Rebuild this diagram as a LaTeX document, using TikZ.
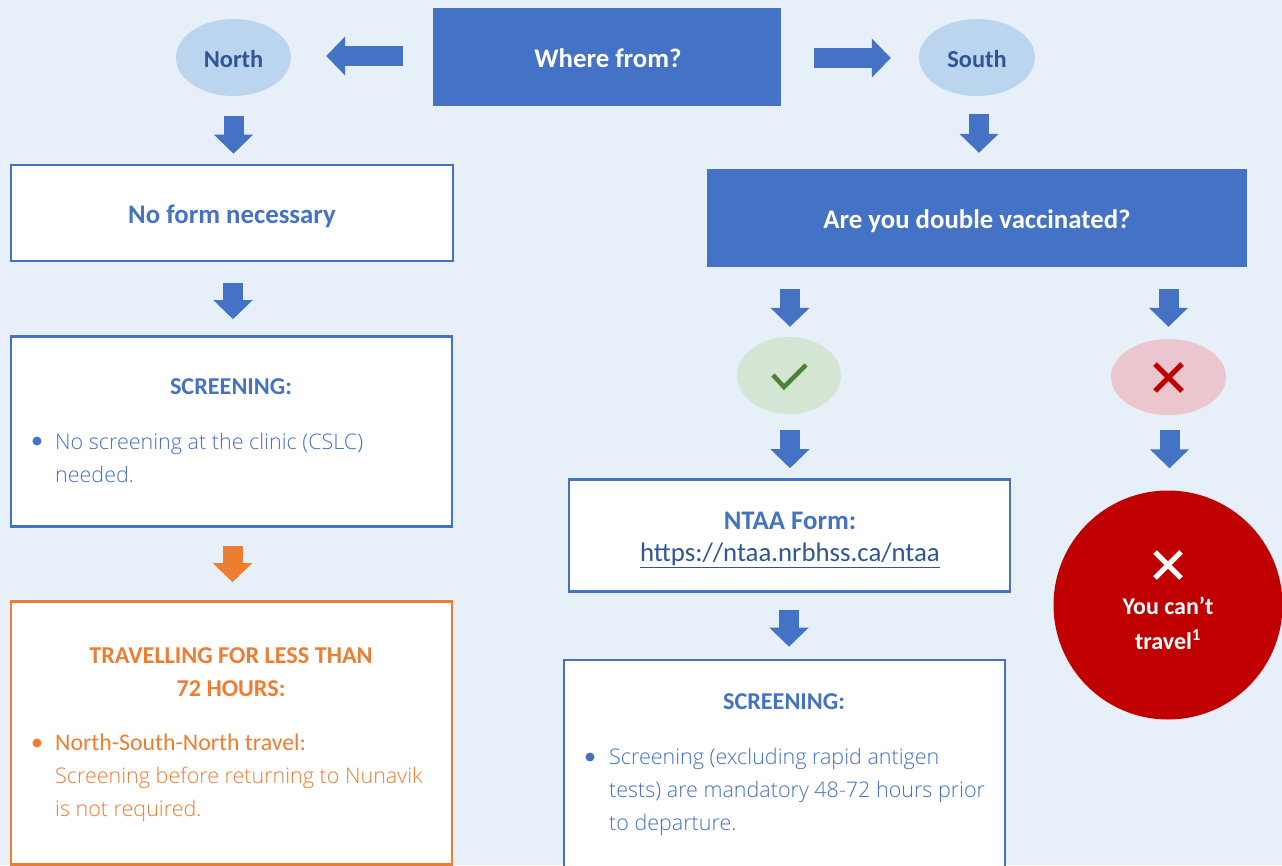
\documentclass[tikz,border=0pt]{standalone}
\usepackage{fontspec}
\setmainfont{Carlito}
\newfontfamily\bodyfont{Open Sans Light}
\usetikzlibrary{arrows.meta,shapes.geometric}
\definecolor{bg}{HTML}{E7EFF9}
\definecolor{mainblue}{HTML}{4472C4}
\definecolor{mainorange}{HTML}{ED7D31}
\definecolor{paleblue}{HTML}{BBD5EE}
\definecolor{darkblue}{HTML}{2F5597}
\definecolor{palegreen}{HTML}{D4E6D3}
\definecolor{darkgreen}{HTML}{4E8033}
\definecolor{palepink}{HTML}{ECC6CE}
\definecolor{darkred}{HTML}{C00000}
\tikzset{
  x=1pt,y=-1pt,
  solidbox/.style={rectangle,fill=mainblue,inner sep=0pt},
  linebox/.style={rectangle,draw=mainblue,fill=white,line width=2.6pt,inner sep=0pt},
  orangebox/.style={linebox,draw=mainorange},
  oval/.style={ellipse,inner sep=0pt},
  ovaltext/.style={inner sep=0pt,text=darkblue,font=\fontsize{24.4}{28}\selectfont\bfseries},
  bigtext/.style={inner sep=0pt,text=mainblue,font=\fontsize{26.8}{32}\selectfont\bfseries},
  blockarrow/.style={line width=20pt,draw=mainblue,-{Triangle[length=19pt,width=38pt]}},
  headtext/.style={inner sep=0pt,text=mainblue,font=\fontsize{24.2}{33}\selectfont\bfseries,align=center},
  bodytext/.style={inner sep=0pt,text=mainblue,anchor=north west,align=left,font=\fontsize{21.5}{33}\selectfont\bodyfont},
  bulletdot/.style={circle,fill=mainblue,inner sep=0pt,minimum size=9pt},
}
\begin{document}
\begin{tikzpicture}
\useasboundingbox (0,0) rectangle (1282,865);
\clip (0,0) rectangle (1282,865);
\fill[bg] (0,0) rectangle (1282,865);

% top row
\node[solidbox,minimum width=348pt,minimum height=98pt] (where) at (607,57) {};
\node[bigtext,text=white] (wheretext) at (608,58) {Where from?};
\node[oval,fill=paleblue,minimum width=115pt,minimum height=77pt] (north) at (233.5,57.5) {};
\node[ovaltext] (northtext) at (233.5,59) {North};
\node[oval,fill=paleblue,minimum width=116pt,minimum height=77pt] (south) at (977,57.5) {};
\node[ovaltext] (southtext) at (977,59) {South};

% left column
\node[linebox,minimum width=442pt,minimum height=96pt] (noform) at (232,213) {};
\node[bigtext] (noformtext) at (232,216) {No form necessary};
\node[linebox,minimum width=441pt,minimum height=190pt] (screenA) at (231.5,431.5) {};
\node[headtext] (screenAhead) at (231,387) {SCREENING:};
\node[bulletdot] (dotA) at (37,441) {};
\node[bodytext] (screenAbody) at (55,432.5) {No screening at the clinic (CSLC)\\needed.};

\node[orangebox,minimum width=441pt,minimum height=263pt] (travel) at (231.5,733) {};
\node[headtext,text=mainorange] (travelhead) at (231,672) {TRAVELLING FOR LESS THAN\\72 HOURS:};
\node[bulletdot,fill=mainorange] (dotB) at (37,743) {};
\node[bodytext,text=mainorange] (travelbody) at (55,734) {{\fontsize{23.8}{33}\selectfont\rmfamily North-South-North travel:}\\Screening before returning to Nunavik\\is not required.};

% right column
\node[solidbox,minimum width=540pt,minimum height=98pt] (vacc) at (977,218) {};
\node[bigtext,text=white] (vacctext) at (977,221.5) {Are you double vaccinated?};
\node[oval,fill=palegreen,minimum width=104pt,minimum height=77pt] (yes) at (789,375.5) {};
\node[oval,fill=palepink,minimum width=115pt,minimum height=76pt] (no) at (1168.5,377) {};
\draw[darkgreen,line width=4.5pt] (773,375) -- (784,387) -- (806,365);
\draw[darkred,line width=5pt] (1155,364) -- (1182,391) (1182,364) -- (1155,391);

\node[linebox,minimum width=441pt,minimum height=112pt] (ntaa) at (789.5,535.5) {};
\node[bigtext] (ntaahead) at (790,521) {NTAA Form:};
\node[inner sep=0pt,text=darkblue,font=\fontsize{26.8}{32}\selectfont] (ntaaurl) at (790,555) {\underline{https://ntaa.nrbhss.ca/ntaa}};

\node[linebox,minimum width=441pt,minimum height=240pt] (screenB) at (784.5,780) {};
\node[headtext] (screenBhead) at (784,702) {SCREENING:};
\node[bulletdot] (dotC) at (590,757) {};
\node[bodytext] (screenBbody) at (609,747.5) {Screening (excluding rapid antigen\\tests) are mandatory 48-72 hours prior\\to departure.};

\node[circle,fill=darkred,minimum size=229pt,inner sep=0pt] (stop) at (1168,605) {};
\draw[white,line width=5pt] (1155,552) -- (1181,578) (1181,552) -- (1155,578);
\node[inner sep=0pt,text=white,align=center,font=\fontsize{24}{35}\selectfont\bfseries] (stoptext) at (1168,623) {You can’t\\travel\textsuperscript{1}};

% block arrows
\draw[blockarrow,shorten <=30pt,shorten >=35pt] ([yshift=1pt]where.west) -- ([yshift=1pt]where.west -| north.east);
\draw[blockarrow,shorten <=33pt,shorten >=28pt] ([yshift=-1pt]where.east) -- ([yshift=-1pt]where.east -| south.west);
\draw[blockarrow,shorten <=20pt,shorten >=10pt] (north.south) -- (north.south |- noform.north);
\draw[blockarrow,shorten <=21pt,shorten >=16pt] ([xshift=1pt]noform.south) -- ([xshift=1pt]noform.south |- screenA.north);
\draw[blockarrow,draw=mainorange,shorten <=18pt,shorten >=18pt] ([xshift=1pt]screenA.south) -- ([xshift=1pt]screenA.south |- travel.north);
\draw[blockarrow,shorten <=18pt,shorten >=16pt] ([xshift=2pt]south.south) -- ([xshift=2pt]south.south |- vacc.north);
\draw[blockarrow,shorten <=22pt,shorten >=10pt] ([xshift=1pt]yes |- vacc.south) -- ([xshift=1pt]yes.north);
\draw[blockarrow,shorten <=22pt,shorten >=12pt] (no |- vacc.south) -- (no.north);
\draw[blockarrow,shorten <=16pt,shorten >=10pt] ([xshift=1pt]yes.south) -- ([xshift=1pt]yes.south |- ntaa.north);
\draw[blockarrow,shorten <=15pt,shorten >=22pt] ([xshift=1pt]no.south) -- ([xshift=1pt]no.south |- stop.north);
\draw[blockarrow,shorten <=17pt,shorten >=12pt] (yes |- ntaa.south) -- (yes |- screenB.north);
\end{tikzpicture}
\end{document}
